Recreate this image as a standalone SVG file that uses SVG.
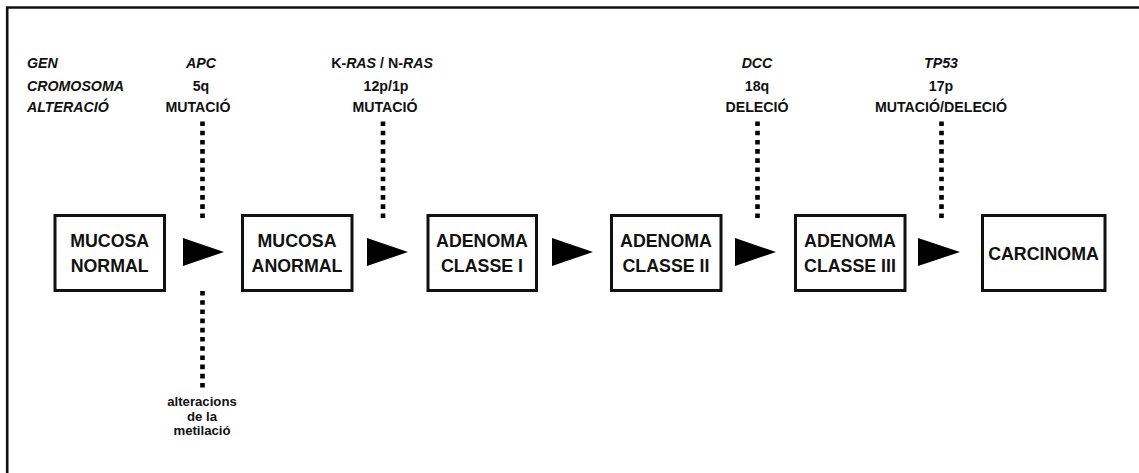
<svg xmlns="http://www.w3.org/2000/svg" width="1139" height="473" viewBox="0 0 1139 473">
<style>
.t{font-family:"Liberation Sans",Arial,sans-serif;font-weight:bold;fill:#111}
.s{font-size:14.2px}
.m{font-size:13.2px}
.b{font-size:17.8px}
.i{font-style:italic}
.box{fill:#fff;stroke:#111;stroke-width:3}
.dot{stroke:#000;stroke-width:4.6;stroke-dasharray:4.6 4.6;fill:none}
.arr{fill:#000}
</style>
<rect width="1139" height="473" fill="#fff"/>
<path d="M7.2,473 V7.5 H1139" fill="none" stroke="#111" stroke-width="2.6"/>
<g id="labels" text-anchor="start">
<text class="t s i" x="27" y="68">GEN</text>
<text class="t s i" x="27" y="91">CROMOSOMA</text>
<text class="t s i" x="27" y="112">ALTERACIÓ</text>
</g>
<g id="apc" text-anchor="middle">
<text class="t s i" x="201" y="68">APC</text>
<text class="t s" x="201" y="91">5q</text>
<text class="t s" x="198" y="112">MUTACIÓ</text>
</g>
<g id="ras" text-anchor="middle">
<text class="t s" x="382" y="68">K-<tspan class="i">RAS</tspan> / N-<tspan class="i">RAS</tspan></text>
<text class="t s" x="386" y="91">12p/1p</text>
<text class="t s" x="385" y="112">MUTACIÓ</text>
</g>
<g id="dcc" text-anchor="middle">
<text class="t s i" x="757" y="68">DCC</text>
<text class="t s" x="757" y="91">18q</text>
<text class="t s" x="757" y="112">DELECIÓ</text>
</g>
<g id="tp53" text-anchor="middle">
<text class="t s i" x="941" y="68">TP53</text>
<text class="t s" x="941" y="91">17p</text>
<text class="t s" x="941" y="112">MUTACIÓ/DELECIÓ</text>
</g>
<g id="metil" text-anchor="middle">
<text class="t m" x="202" y="406">alteracions</text>
<text class="t m" x="202" y="420.5">de la</text>
<text class="t m" x="202" y="435">metilació</text>
</g>
<g id="connectors">
<line class="dot" x1="202.5" y1="121.5" x2="202.5" y2="218"/>
<line class="dot" x1="383" y1="121.5" x2="383" y2="218"/>
<line class="dot" x1="757.5" y1="121.5" x2="757.5" y2="218"/>
<line class="dot" x1="941.5" y1="121.5" x2="941.5" y2="218"/>
<line class="dot" x1="202.5" y1="291" x2="202.5" y2="388"/>
<polygon class="arr" points="183,238 224,252 183,266"/>
<polygon class="arr" points="367,238 408,252 367,266"/>
<polygon class="arr" points="552,238 593,252 552,266"/>
<polygon class="arr" points="735,238 776,252 735,266"/>
<polygon class="arr" points="918,238 960,252 918,266"/>
</g>
<g id="n1"><rect class="box" x="55" y="215.5" width="109.5" height="75"/>
<text class="t b" text-anchor="middle" x="109.7" y="247">MUCOSA</text>
<text class="t b" text-anchor="middle" x="109.7" y="272">NORMAL</text></g>
<g id="n2"><rect class="box" x="242.5" y="215.5" width="109.5" height="75"/>
<text class="t b" text-anchor="middle" x="297" y="247">MUCOSA</text>
<text class="t b" text-anchor="middle" x="297" y="272">ANORMAL</text></g>
<g id="n3"><rect class="box" x="428" y="215.5" width="108.5" height="75"/>
<text class="t b" text-anchor="middle" x="482" y="247">ADENOMA</text>
<text class="t b" text-anchor="middle" x="482" y="272">CLASSE I</text></g>
<g id="n4"><rect class="box" x="611.5" y="215.5" width="109.5" height="75"/>
<text class="t b" text-anchor="middle" x="666" y="247">ADENOMA</text>
<text class="t b" text-anchor="middle" x="666" y="272">CLASSE II</text></g>
<g id="n5"><rect class="box" x="795.5" y="215.5" width="109.5" height="75"/>
<text class="t b" text-anchor="middle" x="850" y="247">ADENOMA</text>
<text class="t b" text-anchor="middle" x="850" y="272">CLASSE III</text></g>
<g id="n6"><rect class="box" x="982.5" y="215.5" width="122.5" height="75"/>
<text class="t b" text-anchor="middle" x="1043.5" y="259.5">CARCINOMA</text></g>
</svg>
